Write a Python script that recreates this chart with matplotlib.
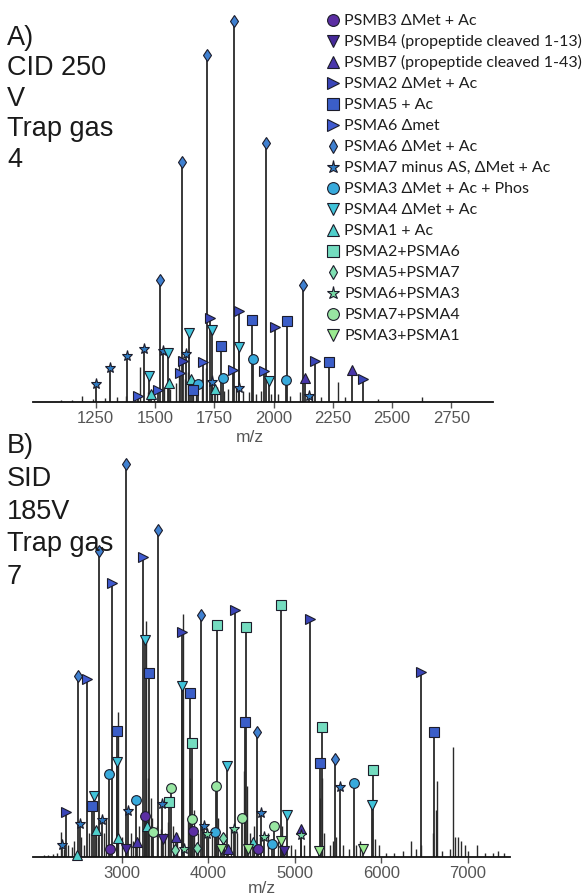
import matplotlib
matplotlib.use("Agg")
import matplotlib.pyplot as plt

# ---- species (legend order) ----
species = [
    "PSMB3 \u0394Met + Ac",
    "PSMB4 (propeptide cleaved 1-13)",
    "PSMB7 (propeptide cleaved 1-43)",
    "PSMA2 \u0394Met + Ac",
    "PSMA5 + Ac",
    "PSMA6 \u0394met",
    "PSMA6 \u0394Met + Ac",
    "PSMA7 minus AS, \u0394Met + Ac",
    "PSMA3 \u0394Met + Ac + Phos",
    "PSMA4 \u0394Met + Ac",
    "PSMA1 + Ac",
    "PSMA2+PSMA6",
    "PSMA5+PSMA7",
    "PSMA6+PSMA3",
    "PSMA7+PSMA4",
    "PSMA3+PSMA1",
]
species_markers = ["o", "v", "^", ">", "s", ">", "d", "*",
                   "o", "v", "^", "s", "d", "*", "o", "v"]
species_colors = ["#5b2ea3", "#46299a", "#4936ab", "#3a45b8", "#3b5ec8", "#3f5ad0",
                  "#3f80d0", "#2f7bc2", "#38aadc", "#40c3da", "#4fcfcb", "#74dcc0",
                  "#7fdfb2", "#76d8a4", "#98e6a2", "#9aea90"]
species_sizes = [7, 7, 7, 7, 6.5, 7, 6, 8, 7, 7, 7, 6.5, 6, 8, 7, 7]

# ---- A) CID 250 V: assigned peaks (m/z, relative intensity %, species) ----
cid_mz = [1612, 1718, 1834, 1968, 1521, 2125,
          1732, 1855, 2006, 2175, 2378, 1617, 1704, 1605, 1827, 1961, 1430, 1514,
          1908, 2055, 1777, 2234, 1661,
          1642, 1740, 1853, 1553, 1475, 1979,
          1912, 1788, 1683, 2051,
          1652, 1560, 1482, 1753,
          1251, 1310, 1381, 1455, 1535, 1631, 1739, 1855, 2148,
          2132, 2329]
cid_int = [63.1, 91.1, 100.0, 68.0, 32.0, 30.7,
           22.0, 24.0, 19.8, 10.8, 6.0, 10.8, 10.4, 7.6, 8.3, 8.1, 1.7, 3.2,
           21.6, 21.3, 14.8, 10.5, 3.2,
           18.0, 18.9, 14.5, 12.9, 6.7, 5.4,
           11.3, 6.3, 4.7, 5.7,
           6.0, 4.9, 2.1, 3.4,
           4.7, 8.8, 12.2, 13.9, 13.5, 12.5, 5.2, 3.7, 1.7,
           6.3, 8.4]
cid_species = [6, 6, 6, 6, 6, 6,
               3, 3, 3, 3, 3, 3, 5, 5, 5, 5, 5, 5,
               4, 4, 4, 4, 4,
               9, 9, 9, 9, 9, 9,
               8, 8, 8, 8,
               10, 10, 10, 10,
               7, 7, 7, 7, 7, 7, 7, 7, 7,
               2, 2]

# unassigned signal in the CID spectrum
cid_bg_mz = [1105, 1150, 1192, 1240, 1290, 1340, 1380, 1410, 1437, 1470, 1495,
             1540, 1565, 1590, 1600, 1625, 1640, 1660, 1675, 1700, 1715, 1742,
             1760, 1790, 1810, 1840, 1870, 1895, 1925, 1945, 1990, 2020, 2070,
             2110, 2160, 2200, 2270, 2300, 2440, 2624]
cid_bg_int = [0.5, 0.6, 1.6, 0.8, 1.0, 1.2, 1.5, 2.0, 9.3, 2.5, 3.0,
              4.0, 3.5, 5.0, 12.0, 6.0, 8.0, 5.0, 4.0, 6.0, 9.0, 7.0,
              4.0, 3.0, 3.5, 4.0, 3.0, 2.5, 2.0, 3.0, 2.0, 2.0, 1.5,
              2.5, 1.5, 1.2, 5.3, 1.2, 0.8, 1.2]

# ---- B) SID 185 V: assigned peaks ----
sid_mz = [2496, 2591, 2738, 2881, 3046, 3239, 3420, 3690, 3910, 4095, 4306,
          4434, 4838, 5173, 6453, 6611, 5315, 5293, 5466, 5520, 5682, 5905, 5886,
          3266, 3312, 3690, 3786, 3806, 2946, 2946, 2850, 4422, 4557, 4210, 4083,
          3568, 3549, 3162, 2680, 2649, 2349, 2514, 2310, 2476, 2699, 2765, 3073,
          3266, 3285, 3362, 2957, 3170, 2861, 3046, 3462, 3477, 3620, 3613, 3717,
          3806, 3817, 3863, 3948, 3979, 4075, 4164, 4141, 4229, 4295, 4391, 4607,
          4460, 4576, 4511, 4644, 4757, 4738, 4835, 4873, 4905, 5066, 5066, 5282,
          5789]
sid_int = [46.0, 45.3, 77.9, 69.7, 100.0, 76.3, 83.2, 57.2, 61.6, 59.0, 62.8,
           58.4, 64.2, 60.6, 47.0, 31.7, 33.0, 23.9, 24.9, 17.7, 18.8, 22.2, 13.2,
           55.3, 46.8, 43.6, 41.7, 28.9, 32.1, 24.2, 21.1, 34.3, 31.9, 23.2, 18.1,
           17.5, 14.1, 14.6, 15.6, 13.1, 11.5, 8.4, 3.1, 0.5, 6.9, 9.4, 11.8,
           10.5, 7.8, 6.4, 4.8, 3.9, 2.0, 2.0, 13.5, 4.6, 5.0, 1.9, 2.0,
           9.7, 6.5, 2.2, 7.8, 5.9, 6.3, 4.8, 2.0, 2.0, 7.1, 9.9, 11.1,
           2.0, 2.0, 3.9, 5.0, 7.8, 3.3, 4.1, 1.4, 10.7, 7.1, 5.6, 1.5,
           2.0]
sid_species = [6, 5, 6, 5, 6, 5, 6, 3, 6, 11, 3,
               11, 11, 3, 3, 4, 11, 4, 6, 7, 8, 11, 9,
               9, 4, 9, 4, 11, 4, 9, 8, 4, 6, 9, 14,
               14, 11, 8, 9, 4, 3, 7, 7, 10, 10, 7, 7,
               0, 10, 14, 10, 2, 0, 1, 7, 1, 2, 12, 13,
               14, 0, 12, 7, 13, 8, 12, 15, 2, 13, 14, 7,
               15, 0, 10, 13, 14, 8, 15, 1, 9, 2, 13, 15,
               15]

# unassigned signal in the SID spectrum
sid_bg_mz = [2100, 2150, 2200, 2250, 2295, 2330, 2380, 2420, 2450, 2530, 2560,
             2620, 2700, 2720, 2790, 2820, 2955, 3000, 3100, 3130, 3200, 3277,
             3300, 3330, 3350, 3400, 3450, 3500, 3530, 3590, 3640, 3700, 3760,
             3790, 3830, 3880, 3920, 4000, 4040, 4110, 4180, 4260, 4330, 4410,
             4445, 4480, 4530, 4600, 4690, 4800, 4850, 4950, 5000, 5100, 5290,
             5310, 5330, 5400, 5440, 5480, 5560, 5620, 5700, 5750, 5890, 5920,
             5970, 6050, 6150, 6250, 6340, 6400, 6460, 6600, 6625, 6638, 6700,
             6790, 6823, 6850, 6888, 6920, 6960, 7000, 7100, 7200, 7290, 7351,
             7420]
sid_bg_int = [0.5, 0.6, 0.8, 1.0, 6.3, 2.0, 3.0, 2.5, 4.0, 5.0, 3.0,
              6.0, 8.0, 5.0, 6.0, 10.0, 37.0, 5.0, 6.0, 4.0, 8.0, 60.0,
              20.0, 15.0, 10.0, 8.0, 7.0, 6.0, 9.0, 8.0, 6.0, 61.8, 10.0,
              20.0, 12.0, 6.0, 8.0, 5.0, 6.0, 10.0, 6.0, 7.0, 6.0, 22.0,
              18.0, 6.0, 8.0, 5.0, 6.0, 4.0, 8.0, 3.0, 2.0, 3.0, 15.0,
              20.0, 6.0, 3.0, 4.0, 5.0, 3.0, 2.0, 3.0, 4.0, 10.0, 4.5,
              3.0, 1.0, 1.0, 1.5, 4.0, 2.0, 3.0, 6.0, 12.0, 19.3, 1.5,
              2.0, 27.9, 5.0, 5.0, 4.0, 3.0, 1.5, 3.0, 1.0, 1.0, 1.6,
              1.0]

cid_ticks = [1250, 1500, 1750, 2000, 2250, 2500, 2750]
sid_ticks = [3000, 4000, 5000, 6000, 7000]

W, H = 586, 895
fig = plt.figure(figsize=(W / 100, H / 100), dpi=100)

TICK_GRAY = "#555555"
STEM = "#2a2a2a"


def draw_spectrum(ax, mz, inten, spec, bg_mz, bg_int, xlim, ticks):
    ax.vlines(bg_mz, 0, bg_int, color=STEM, lw=1.0, zorder=1)
    ax.vlines(mz, 0, inten, color=STEM, lw=1.3, zorder=2)
    # draw larger peaks first so that small markers stay on top
    order = sorted(range(len(mz)), key=lambda i: -inten[i])
    for i in order:
        s = spec[i]
        ax.plot(mz[i], inten[i], marker=species_markers[s], ms=species_sizes[s],
                mfc=species_colors[s], mec="#1c1c2a", mew=0.8, ls="none",
                zorder=3, clip_on=False)
    ax.set_xlim(*xlim)
    ax.set_ylim(0, 100)
    for side in ("left", "right", "top"):
        ax.spines[side].set_visible(False)
    ax.spines["bottom"].set_linewidth(1.3)
    ax.spines["bottom"].set_color("#111111")
    ax.set_yticks([])
    ax.set_xticks(ticks)
    ax.tick_params(axis="x", direction="out", length=4, width=1, color=TICK_GRAY,
                   labelcolor=TICK_GRAY, labelsize=12, pad=2)
    for lab in ax.get_xticklabels():
        lab.set_fontfamily("Liberation Sans")


# panel A axes
ax1 = fig.add_axes([33 / W, 1 - 403 / H, (493 - 33) / W, (403 - 22) / H])
draw_spectrum(ax1, cid_mz, cid_int, cid_species, cid_bg_mz, cid_bg_int,
              (986, 2925), cid_ticks)

# panel B axes
ax2 = fig.add_axes([33 / W, 1 - 858 / H, (510 - 33) / W, (858 - 465) / H])
draw_spectrum(ax2, sid_mz, sid_int, sid_species, sid_bg_mz, sid_bg_int,
              (1971, 7486), sid_ticks)

# overlay in pixel coordinates for labels and legend
ov = fig.add_axes([0, 0, 1, 1], zorder=10)
ov.set_xlim(0, W)
ov.set_ylim(H, 0)
ov.axis("off")

ov.text(250, 437, "m/z", ha="center", va="center", fontsize=12.5,
        color=TICK_GRAY, family="Liberation Sans")
ov.text(262, 889, "m/z", ha="center", va="center", fontsize=12.5,
        color=TICK_GRAY, family="Liberation Sans")

ov.text(7, 25, "A)\nCID 250\nV\nTrap gas\n4", ha="left", va="top", fontsize=19.5,
        color="#1a1a1a", family="Liberation Sans", linespacing=1.22)
ov.text(7, 433, "B)\nSID\n185V\nTrap gas\n7", ha="left", va="top", fontsize=19.5,
        color="#1a1a1a", family="Liberation Sans", linespacing=1.34)

# legend
for k, name in enumerate(species):
    y = 20.7 + 21.05 * k
    ov.plot(333, y, marker=species_markers[k], ms=species_sizes[k] + 1.5,
            mfc=species_colors[k], mec="#1c1c2a", mew=0.8, ls="none")
    ov.text(344, y, name, ha="left", va="center", fontsize=11.5,
            color="#1e1e1e", family=["Lato", "DejaVu Sans"])

fig.savefig("out.png", dpi=100)
